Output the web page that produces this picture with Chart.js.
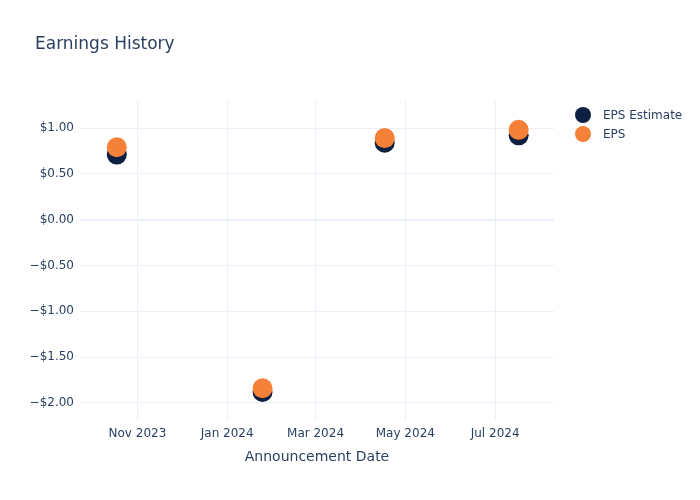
<!DOCTYPE html>
<html>
<head>
<meta charset="utf-8">
<script src="https://cdn.jsdelivr.net/npm/chart.js@4.4.1/dist/chart.umd.min.js"></script>
<style>
  html, body { margin: 0; padding: 0; background: #fff; }
  #wrap { width: 700px; height: 500px; position: relative; }
</style>
</head>
<body>
<div id="wrap"><canvas id="myChart" width="700" height="500"></canvas></div>
<script>
const ctx = document.getElementById('myChart').getContext('2d');

// data
const dates = ['2023-10-18', '2024-01-25', '2024-04-17', '2024-07-17'];
const epsEstimate = [0.71, -1.88, 0.84, 0.92];
const eps = [0.79, -1.84, 0.89, 0.98];
const xTickDates = ['2023-11-01', '2024-01-01', '2024-03-01', '2024-05-01', '2024-07-01'];
const xTickLabels = ['Nov 2023', 'Jan 2024', 'Mar 2024', 'May 2024', 'Jul 2024'];
const yTicks = [-2, -1.5, -1, -0.5, 0, 0.5, 1];

const fontFam = "'DejaVu Sans', Verdana, sans-serif";
const textColor = '#2a3f5f';
const gridColor = '#ebf0f8';
const navy = '#0d2041';
const orange = '#f58138';

const ts = d => Date.parse(d + 'T00:00:00Z');
const xTickVals = xTickDates.map(ts);

function money(v) {
    const s = '$' + Math.abs(v).toFixed(2);
    return v < 0 ? '\u2212' + s : s;
}

const extras = {
    id: 'extras',
    afterDraw(chart) {
        const c = chart.ctx;
        c.save();
        c.fillStyle = textColor;
        c.textBaseline = 'middle';
        c.font = '17px ' + fontFam;
        c.textAlign = 'left';
        c.fillText('Earnings History', 35, 45);

        c.font = '14px ' + fontFam;
        c.textAlign = 'center';
        const area = chart.chartArea;
        c.fillText('Announcement Date', (area.left + area.right) / 2, 457);

        // legend
        const items = [['EPS Estimate', navy], ['EPS', orange]];
        items.forEach((it, i) => {
            const y = 115 + i * 19;
            c.beginPath();
            c.arc(583, y, 8, 0, Math.PI * 2);
            c.fillStyle = it[1];
            c.fill();
            c.fillStyle = textColor;
            c.font = '12px ' + fontFam;
            c.textAlign = 'left';
            c.fillText(it[0], 603, y + 1);
        });
        c.restore();
    }
};

const chartData = {
    datasets: [
        {
            label: 'EPS Estimate',
            data: dates.map((d, i) => ({ x: ts(d), y: epsEstimate[i] })),
            backgroundColor: navy,
            borderWidth: 0,
            pointRadius: 10,
            pointHoverRadius: 10,
            order: 1
        },
        {
            label: 'EPS',
            data: dates.map((d, i) => ({ x: ts(d), y: eps[i] })),
            backgroundColor: orange,
            borderWidth: 0,
            pointRadius: 10,
            pointHoverRadius: 10,
            order: 0
        }
    ]
};

new Chart(ctx, {
    type: 'scatter',
    data: chartData,
    plugins: [extras],
    options: {
        responsive: false,
        animation: false,
        layout: { padding: { top: 101, right: 146, bottom: 0, left: 1 } },
        plugins: {
            legend: { display: false },
            title: { display: false },
            tooltip: { enabled: false }
        },
        scales: {
            x: {
                type: 'linear',
                min: ts('2023-09-23'),
                max: ts('2024-08-10'),
                afterBuildTicks: s => { s.ticks = xTickVals.map(v => ({ value: v })); },
                afterFit: s => { s.height = 79; },
                border: { display: false },
                grid: { color: gridColor, drawTicks: false, lineWidth: 1 },
                ticks: {
                    padding: 6,
                    color: textColor,
                    font: { family: fontFam, size: 12 },
                    maxRotation: 0,
                    callback: v => xTickLabels[xTickVals.indexOf(v)]
                }
            },
            y: {
                min: -2.197,
                max: 1.295,
                afterBuildTicks: s => { s.ticks = yTicks.map(v => ({ value: v })); },
                afterFit: s => { s.width = 79; },
                border: { display: false },
                grid: {
                    drawTicks: false,
                    color: gridColor,
                    lineWidth: c => (c.tick && c.tick.value === 0 ? 2 : 1)
                },
                ticks: {
                    padding: 6,
                    color: textColor,
                    font: { family: fontFam, size: 12 },
                    callback: v => money(v)
                }
            }
        }
    }
});
</script>
</body>
</html>
